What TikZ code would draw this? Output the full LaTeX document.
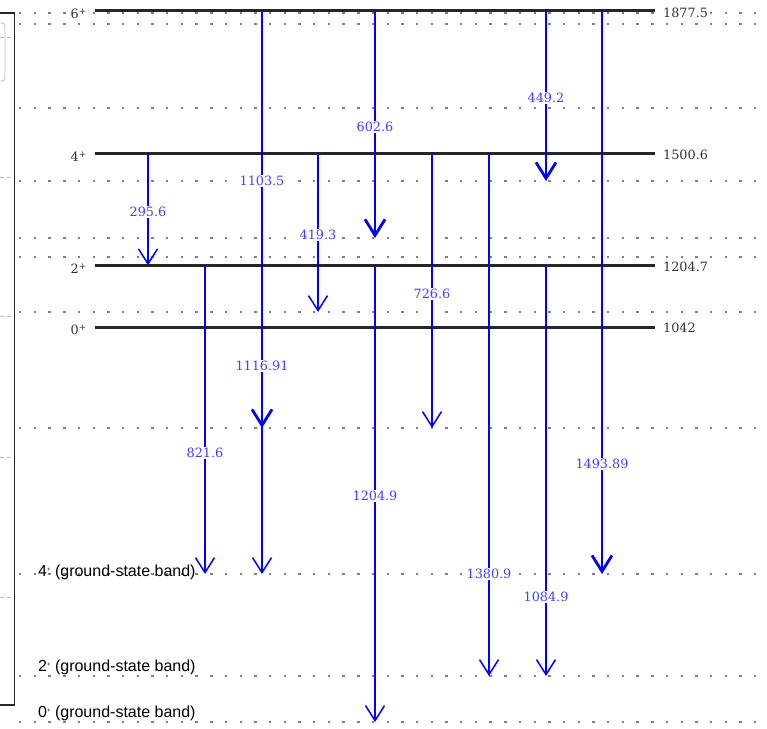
\documentclass[tikz,border=0pt]{standalone}
\usepackage{fontspec}
\setmainfont{DejaVu Serif}
\newfontfamily\gsfont{Liberation Sans}
\usetikzlibrary{arrows.meta}
\begin{document}
\begin{tikzpicture}[x=1pt,y=-1pt,
  levelline/.style={line width=3pt, draw=black!85},
  dotline/.style={draw=black!50, line width=1.4pt, dash pattern=on 2.4pt off 12.3pt},
  sidedash/.style={draw=black!25, line width=0.8pt, dash pattern=on 4pt off 3pt},
  thinarr/.style={draw=blue, line width=1.5pt, -{Straight Barb[length=15pt,width=19pt]}},
  thickarr/.style={draw=blue, line width=2.8pt, -{Straight Barb[length=16pt,width=20pt]}},
  glab/.style={fill=white, text=blue!75, inner sep=1.5pt, font=\fontsize{12.8}{14}\selectfont},
  elab/.style={anchor=west, fill=white, text=black!80, inner sep=1pt, font=\fontsize{12.8}{14}\selectfont},
  spinlab/.style={anchor=east, fill=white, text=black!80, inner sep=1pt, font=\fontsize{12.8}{14}\selectfont},
  gslab/.style={anchor=west, text=black, inner sep=0pt, font=\gsfont\fontsize{16}{18}\selectfont}
]
\useasboundingbox (0,0) rectangle (767,728);

% left frame remnants
\draw[black!25, line width=0.8pt, rounded corners=3pt] (-6,23) rectangle (5,81);
\foreach \yy in {37,177,316,457,597} \draw[sidedash] (0,\yy) -- (13,\yy);
\draw[black!85, line width=1.5pt] (0,13) -- (14.5,13) -- (14.5,705) -- (0,705);

% dotted guide lines
\foreach \yy in {13,24,108,181,238,257,312,428,574,676,722}
  \draw[dotline] (19,\yy) -- (767,\yy);

% levels
\coordinate (L6a) at (95,10.7);  \coordinate (L6b) at (655,10.7);
\coordinate (L4a) at (95,153.3); \coordinate (L4b) at (655,153.3);
\coordinate (L2a) at (95,265.3); \coordinate (L2b) at (655,265.3);
\coordinate (L0a) at (95,327);   \coordinate (L0b) at (655,327);
\draw[levelline] (L6a) -- (L6b);
\draw[levelline] (L4a) -- (L4b);
\draw[levelline] (L2a) -- (L2b);
\draw[levelline] (L0a) -- (L0b);

\node[spinlab] (s6) at (88,14) {6\textsuperscript{+}};
\node[spinlab] (s4) at (88,157) {4\textsuperscript{+}};
\node[spinlab] (s2) at (88,269) {2\textsuperscript{+}};
\node[spinlab] (s0) at (88,330) {0\textsuperscript{+}};
\node[elab] (e6) at (662,12.5) {1877.5};
\node[elab] (e4) at (662,155) {1500.6};
\node[elab] (e2) at (662,267) {1204.7};
\node[elab] (e0) at (662,328) {1042};

\node[gslab] (g4) at (38,572) {4\raisebox{0.6ex}{\fontsize{6}{6}\selectfont +} (ground-state band)};
\node[gslab] (g2) at (38,667) {2\raisebox{0.6ex}{\fontsize{6}{6}\selectfont +} (ground-state band)};
\node[gslab] (g0) at (38,713) {0\raisebox{0.6ex}{\fontsize{6}{6}\selectfont +} (ground-state band)};

% arrow end points
\coordinate (a295s) at (148,153.3); \coordinate (a295e) at (148,265.3);
\coordinate (a821s) at (205,265.3); \coordinate (a821e) at (205,574);
\coordinate (a1103s) at (262,10.7); \coordinate (a1103e) at (262,428);
\coordinate (a1116s) at (262,153.3); \coordinate (a1116e) at (262,574);
\coordinate (a419s) at (318,153.3); \coordinate (a419e) at (318,312);
\coordinate (a602s) at (375,10.7); \coordinate (a602e) at (375,238);
\coordinate (a1204s) at (375,265.3); \coordinate (a1204e) at (375,722);
\coordinate (a726s) at (432,153.3); \coordinate (a726e) at (432,428);
\coordinate (a1380s) at (489,153.3); \coordinate (a1380e) at (489,676);
\coordinate (a449s) at (546,10.7); \coordinate (a449e) at (546,181);
\coordinate (a1084s) at (546,265.3); \coordinate (a1084e) at (546,676);
\coordinate (a1493s) at (602,10.7); \coordinate (a1493e) at (602,574);

% thin transitions
\draw[thinarr] (a295s) -- (a295e);
\draw[thinarr] (a821s) -- (a821e);
\draw[thinarr] (a1116s) -- (a1116e);
\draw[thinarr] (a419s) -- (a419e);
\draw[thinarr] (a1204s) -- (a1204e);
\draw[thinarr] (a726s) -- (a726e);
\draw[thinarr] (a1380s) -- (a1380e);
\draw[thinarr] (a1084s) -- (a1084e);
% thick transitions
\draw[thickarr] (a1103s) -- (a1103e);
\draw[thickarr] (a602s) -- (a602e);
\draw[thickarr] (a449s) -- (a449e);
\draw[thickarr] (a1493s) -- (a1493e);

% transition labels
\node[glab] (n295) at (148,212) {295.6};
\node[glab] (n821) at (205,453) {821.6};
\node[glab] (n1103) at (262,181) {1103.5};
\node[glab] (n1116) at (262,366) {1116.91};
\node[glab] (n419) at (318,235) {419.3};
\node[glab] (n602) at (375,127) {602.6};
\node[glab] (n1204) at (375,496) {1204.9};
\node[glab] (n726) at (432,294) {726.6};
\node[glab] (n1380) at (489,574) {1380.9};
\node[glab] (n449) at (546,98) {449.2};
\node[glab] (n1084) at (546,597) {1084.9};
\node[glab] (n1493) at (602,464) {1493.89};
\end{tikzpicture}
\end{document}
